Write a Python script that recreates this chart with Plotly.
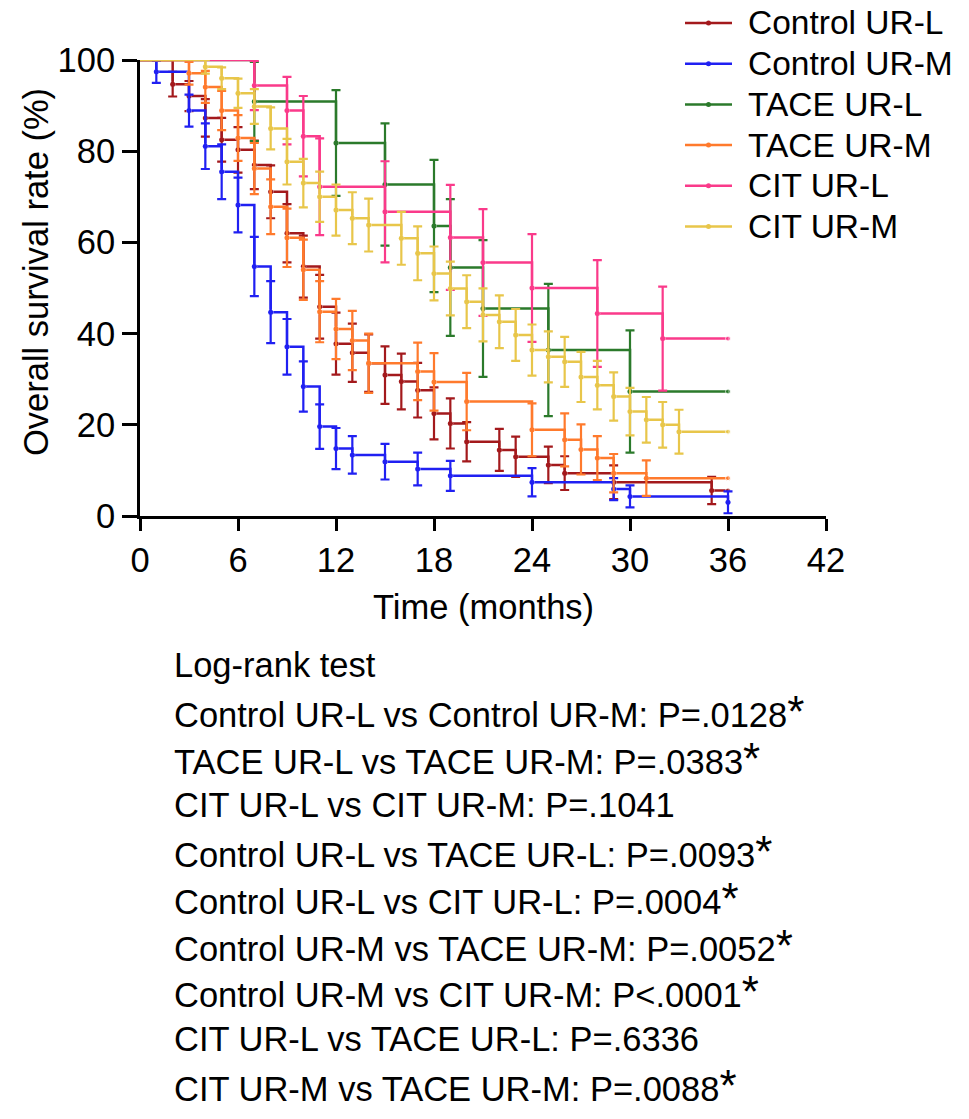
import plotly.graph_objects as go

# Kaplan-Meier steps (months, % surviving, +/- error)
ctl_l_t = [2, 3, 4, 5, 6, 7, 8, 9, 10, 11, 12, 13, 14, 15, 16, 17, 18, 19, 20, 22, 23, 25, 26, 29, 35]
ctl_l_s = [94.7, 92.1, 87.3, 82.5, 80.3, 77.0, 71.1, 62.0, 54.7, 45.9, 37.8, 35.8, 33.5, 30.9, 29.5,
           27.6, 22.5, 20.3, 16.3, 14.5, 13.0, 11.2, 9.4, 7.4, 5.6]
ctl_l_e = [2.7, 3.3, 4.1, 4.8, 5.0, 5.3, 5.8, 6.4, 6.8, 7.0, 6.8, 6.4, 6.3, 6.3, 6.1,
           6.0, 5.7, 5.5, 4.3, 4.6, 4.4, 4.0, 3.7, 3.7, 3.0]

ctl_m_t = [1, 3, 4, 5, 6, 7, 8, 9, 10, 11, 12, 13, 15, 17, 19, 24, 29, 30, 36]
ctl_m_s = [97.4, 88.9, 81.1, 75.5, 68.2, 54.7, 44.7, 37.1, 28.4, 19.6, 14.8, 13.4, 11.9, 10.3,
           8.8, 7.4, 5.9, 4.3, 3.0]
ctl_m_e = [2.4, 3.5, 5.0, 6.0, 6.0, 6.5, 6.8, 6.1, 5.5, 4.9, 4.5, 4.1, 3.9, 3.6, 3.3, 3.1, 2.4, 2.4, 2.4]

tace_l_t = [7, 12, 15, 18, 19, 21, 25, 30]
tace_l_s = [90.9, 81.8, 72.7, 63.6, 54.5, 45.5, 36.4, 27.3]
tace_l_e = [8.7, 11.6, 13.4, 14.5, 15.0, 15.0, 14.5, 13.4]

tace_m_t = [3, 4, 5, 6, 7, 8, 9, 10, 11, 12, 13, 14, 17, 18, 20, 24, 26, 27, 28, 29, 31]
tace_m_s = [97.1, 94.1, 88.9, 82.9, 76.2, 67.8, 61.0, 54.0, 44.8, 41.0, 38.5, 33.5, 31.7, 29.4,
            25.1, 18.9, 16.7, 14.6, 12.7, 9.4, 8.3]
tace_m_e = [2.5, 3.5, 4.3, 5.0, 5.6, 6.0, 6.4, 6.6, 6.7, 6.6, 6.5, 6.5, 6.3, 6.3,
            6.3, 5.8, 5.8, 5.5, 4.8, 4.2, 3.9]

cit_l_t = [7, 9, 10, 11, 15, 19, 21, 24, 28, 32]
cit_l_s = [94.4, 88.9, 83.3, 72.2, 66.7, 61.1, 55.6, 50.0, 44.4, 38.9]
cit_l_e = [5.4, 7.4, 8.8, 10.6, 11.1, 11.5, 11.7, 11.8, 11.7, 11.4]

cit_m_t = [4, 5, 6, 7, 8, 9, 10, 11, 12, 13, 14, 16, 17, 18, 19, 20, 21, 22, 23, 24, 25, 26,
           27, 28, 29, 30, 31, 32, 33]
cit_m_s = [98.5, 96.0, 92.7, 89.8, 85.0, 77.7, 73.0, 70.0, 67.1, 65.3, 63.8, 60.9, 57.6, 53.2,
           49.9, 47.0, 44.1, 42.6, 39.7, 36.4, 34.9, 33.8, 30.5, 28.7, 26.2, 22.9, 21.1, 20.0, 18.5]
cit_m_e = [1.5, 2.4, 3.2, 3.8, 4.6, 5.0, 5.3, 5.5, 5.6, 5.7, 5.8, 5.8, 5.9, 5.9,
           5.9, 5.8, 5.8, 5.8, 5.7, 5.6, 5.6, 5.5, 5.5, 5.3, 5.3, 5.2, 5.0, 5.0, 4.8]

names = ["Control UR-L", "Control UR-M", "TACE UR-L", "TACE UR-M", "CIT UR-L", "CIT UR-M"]
colors = ["#A3191C", "#2020F2", "#2B7A2B", "#FF7A2C", "#FA3A8A", "#E8C64A"]
times = [ctl_l_t, ctl_m_t, tace_l_t, tace_m_t, cit_l_t, cit_m_t]
surv = [ctl_l_s, ctl_m_s, tace_l_s, tace_m_s, cit_l_s, cit_m_s]
errs = [ctl_l_e, ctl_m_e, tace_l_e, tace_m_e, cit_l_e, cit_m_e]
follow_up = 36

x_ticks = [0, 6, 12, 18, 24, 30, 36, 42]
y_ticks = [0, 20, 40, 60, 80, 100]

comparisons = ["Control UR-L vs Control UR-M", "TACE UR-L vs TACE UR-M", "CIT UR-L vs CIT UR-M",
               "Control UR-L vs TACE UR-L", "Control UR-L vs CIT UR-L", "Control UR-M vs TACE UR-M",
               "Control UR-M vs CIT UR-M", "CIT UR-L vs TACE UR-L", "CIT UR-M vs TACE UR-M"]
p_values = ["P=.0128", "P=.0383", "P=.1041", "P=.0093", "P=.0004", "P=.0052",
            "P<.0001", "P=.6336", "P=.0088"]
significant = [True, True, False, True, True, True, True, False, True]

FONT = "Liberation Sans, Arial, Helvetica, sans-serif"
FS = 34.5
W, H = 969, 1119
# plot area in page pixels (body margin is removed below)
L, R, T, B = 140, 826, 60, 516


def px(x):
    return (x - L) / (R - L)


def py(y):
    return (B - y) / (B - T)


fig = go.Figure()

for name, col, t, s, e in zip(names, colors, times, surv, errs):
    xs = [0] + t
    ys = [100] + s
    if t[-1] < follow_up:
        xs = xs + [follow_up]
        ys = ys + [s[-1]]
    fig.add_trace(go.Scatter(
        x=xs, y=ys, mode="lines+markers", name=name,
        line=dict(color=col, width=2.5, shape="hv"),
        marker=dict(color=col, size=[0] + [5] * (len(xs) - 1)),
        cliponaxis=False, showlegend=False))
    fig.add_trace(go.Scatter(
        x=t, y=s, mode="markers", name=name,
        marker=dict(color=col, size=5),
        error_y=dict(type="data", array=e, visible=True, color=col, thickness=2.2, width=4.5),
        cliponaxis=False, showlegend=False))

fig.update_xaxes(range=[0, 42], tickvals=x_ticks, showline=True, linewidth=3, linecolor="black",
                 ticks="outside", ticklen=12, tickwidth=3, tickcolor="black",
                 showgrid=False, zeroline=False, ticklabelstandoff=0,
                 tickfont=dict(size=FS, color="black"))
fig.update_yaxes(range=[0, 100], tickvals=y_ticks, showline=True, linewidth=3, linecolor="black",
                 ticks="outside", ticklen=15, tickwidth=3, tickcolor="black",
                 showgrid=False, zeroline=False, ticklabelstandoff=0,
                 tickfont=dict(size=FS, color="black"))

ann = []
ann.append(dict(text="Time (months)", x=px(483), y=py(607), xref="paper", yref="paper",
                showarrow=False, xanchor="center", yanchor="middle", font=dict(size=FS)))
ann.append(dict(text="Overall survival rate (%)", x=px(36), y=py(272), xref="paper", yref="paper",
                showarrow=False, textangle=-90, xanchor="center", yanchor="middle",
                font=dict(size=FS)))

# legend drawn by hand
shapes = []
for i, (name, col) in enumerate(zip(names, colors)):
    yc = 23 + 40.7 * i
    shapes.append(dict(type="line", xref="paper", yref="paper", x0=px(685), x1=px(732),
                       y0=py(yc), y1=py(yc), line=dict(color=col, width=2.5)))
    shapes.append(dict(type="circle", xref="paper", yref="paper", x0=px(706), x1=px(711),
                       y0=py(yc + 2.5), y1=py(yc - 2.5), fillcolor=col, line=dict(color=col, width=0)))
    ann.append(dict(text=name, x=px(746), y=py(yc), xref="paper", yref="paper", showarrow=False,
                    xanchor="left", yanchor="middle", font=dict(size=33.5)))

lines = ["Log-rank test"]
for c, p, sig in zip(comparisons, p_values, significant):
    txt = c + ": " + p
    if sig:
        txt += '<span style="font-size:44px">*</span>'
    lines.append(txt)
for i, txt in enumerate(lines):
    ann.append(dict(text=txt, x=px(172), y=py(665 + 46.7 * i), xref="paper", yref="paper",
                    showarrow=False, xanchor="left", yanchor="middle", font=dict(size=FS)))

fig.update_layout(width=W, height=H,
                  margin=dict(l=L, r=W - R, t=T, b=H - B),
                  plot_bgcolor="white", paper_bgcolor="white", showlegend=False,
                  font=dict(family=FONT, size=FS, color="black"),
                  annotations=ann, shapes=shapes)

fig.write_html("out.html", config={"displayModeBar": False},
               post_script="document.body.style.margin='0';")
